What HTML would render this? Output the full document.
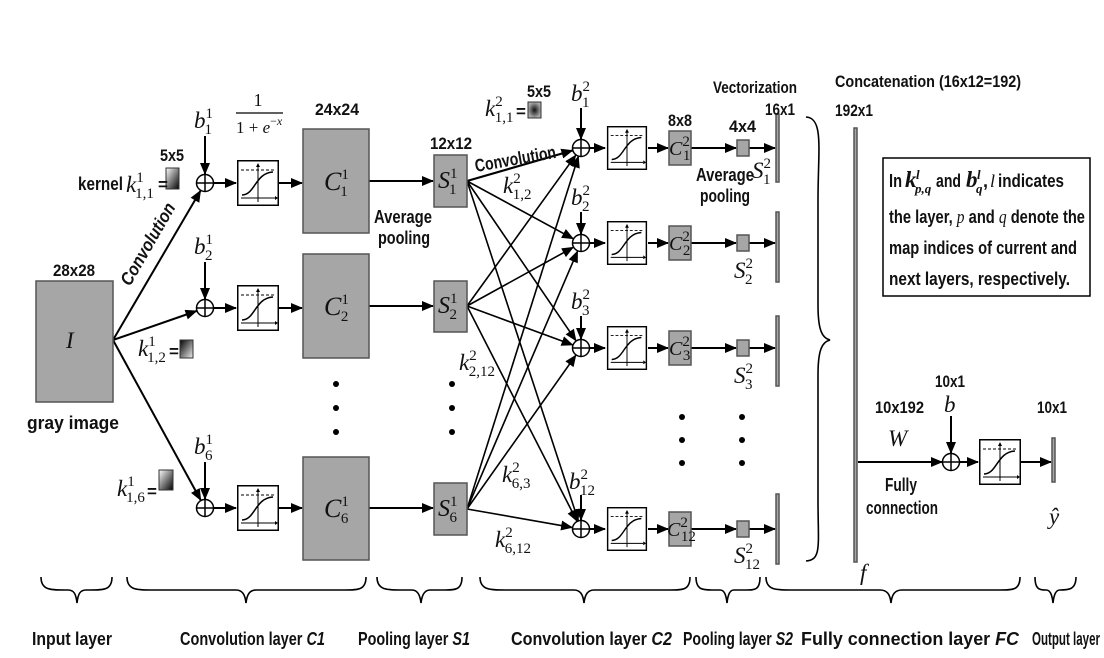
<!DOCTYPE html>
<html><head><meta charset="utf-8"><style>
html,body{margin:0;padding:0;background:#fff}
svg{display:block}
.t{font-family:"Liberation Sans Narrow","Liberation Sans",sans-serif;font-weight:bold;font-size:17px;fill:#111}
.m{font-family:"Liberation Serif",serif;font-style:italic;font-size:23px;fill:#111}
.s{font-size:15px;font-style:normal}
</style></head><body>
<svg width="1104" height="658" viewBox="0 0 1104 658" xmlns="http://www.w3.org/2000/svg">
<defs>
<marker id="a" markerUnits="userSpaceOnUse" markerWidth="12" markerHeight="10" refX="11" refY="5" orient="auto"><path d="M0,0 L12,5 L0,10 z" fill="#000"/></marker>
<linearGradient id="g1" x1="0" y1="0" x2="1" y2="1"><stop offset="0" stop-color="#fff"/><stop offset="1" stop-color="#000"/></linearGradient>
<linearGradient id="g2" x1="0" y1="0" x2="1" y2="1"><stop offset="0" stop-color="#000"/><stop offset="1" stop-color="#eee"/></linearGradient>
<radialGradient id="g3"><stop offset="0" stop-color="#111"/><stop offset="1" stop-color="#aaa"/></radialGradient>
<symbol id="sg" viewBox="0 0 42 46" overflow="visible">
<rect x="0.75" y="0.75" width="40.5" height="44.5" fill="#fff" stroke="#000" stroke-width="1.5"/>
<line x1="4" y1="10" x2="38" y2="10" stroke="#000" stroke-dasharray="3,2" stroke-width="1"/>
<line x1="4" y1="38" x2="38" y2="38" stroke="#000" stroke-width="1"/><path d="M38,36 L41,38 L38,40z"/>
<line x1="21" y1="42" x2="21" y2="5" stroke="#000" stroke-width="1"/><path d="M19,7 L21,3 L23,7z"/>
<path d="M5,35 C18,35 18,13 36,12" fill="none" stroke="#000" stroke-width="1.5"/>
</symbol>
<symbol id="pl" viewBox="-10 -10 20 20" overflow="visible">
<circle r="8.5" fill="#fff" stroke="#000" stroke-width="1.5"/><line x1="-8.5" y1="0" x2="8.5" y2="0" stroke="#000" stroke-width="1.5"/><line x1="0" y1="-8.5" x2="0" y2="8.5" stroke="#000" stroke-width="1.5"/>
</symbol>
</defs>
<g stroke="#000" stroke-width="2" fill="none">
<line x1="113" y1="340" x2="200.5" y2="190.8" marker-end="url(#a)"/>
<line x1="113" y1="340" x2="196.5" y2="311" marker-end="url(#a)"/>
<line x1="113" y1="340" x2="200.7" y2="500.1" marker-end="url(#a)"/>
<line x1="205" y1="136" x2="205" y2="174" marker-end="url(#a)"/>
<line x1="205" y1="262" x2="205" y2="299" marker-end="url(#a)"/>
<line x1="205" y1="462" x2="205" y2="499" marker-end="url(#a)"/>
<line x1="214" y1="183" x2="236" y2="183" marker-end="url(#a)"/>
<line x1="279" y1="183" x2="302" y2="183" marker-end="url(#a)"/>
<line x1="214" y1="308" x2="236" y2="308" marker-end="url(#a)"/>
<line x1="279" y1="308" x2="302" y2="308" marker-end="url(#a)"/>
<line x1="214" y1="508" x2="236" y2="508" marker-end="url(#a)"/>
<line x1="279" y1="508" x2="302" y2="508" marker-end="url(#a)"/>
<line x1="369" y1="181" x2="433" y2="181" marker-end="url(#a)"/>
<line x1="369" y1="306" x2="433" y2="306" marker-end="url(#a)"/>
<line x1="369" y1="508" x2="433" y2="508" marker-end="url(#a)"/>
<g stroke-width="1.6">
<line x1="467" y1="181" x2="572.4" y2="150.5" marker-end="url(#a)" stroke-width="2.2"/>
<line x1="467" y1="181" x2="573.1" y2="238.7" marker-end="url(#a)"/>
<line x1="467" y1="181" x2="575.9" y2="340.6" marker-end="url(#a)"/>
<line x1="467" y1="181" x2="578.2" y2="520.4" marker-end="url(#a)"/>
<line x1="467" y1="306" x2="575.7" y2="155.3" marker-end="url(#a)"/>
<line x1="467" y1="306" x2="573.1" y2="247.4" marker-end="url(#a)"/>
<line x1="467" y1="306" x2="572.6" y2="344.9" marker-end="url(#a)"/>
<line x1="467" y1="306" x2="576.9" y2="521" marker-end="url(#a)"/>
<line x1="467" y1="509" x2="578.3" y2="156.6" marker-end="url(#a)"/>
<line x1="467" y1="509" x2="577.5" y2="251.3" marker-end="url(#a)"/>
<line x1="467" y1="509" x2="575.8" y2="355.3" marker-end="url(#a)"/>
<line x1="467" y1="509" x2="572.1" y2="527.4" marker-end="url(#a)"/>
</g>
<line x1="581" y1="108" x2="581" y2="139" marker-end="url(#a)"/>
<line x1="581" y1="212" x2="581" y2="234" marker-end="url(#a)"/>
<line x1="581" y1="316" x2="581" y2="339" marker-end="url(#a)"/>
<line x1="581" y1="495" x2="581" y2="520" marker-end="url(#a)"/>
<line x1="590" y1="148" x2="605" y2="148" marker-end="url(#a)"/><line x1="648" y1="148" x2="668" y2="148" marker-end="url(#a)"/><line x1="691" y1="148" x2="736" y2="148" marker-end="url(#a)"/><line x1="749" y1="148" x2="775" y2="148" marker-end="url(#a)"/>
<line x1="590" y1="243" x2="605" y2="243" marker-end="url(#a)"/><line x1="648" y1="243" x2="668" y2="243" marker-end="url(#a)"/><line x1="691" y1="243" x2="736" y2="243" marker-end="url(#a)"/><line x1="749" y1="243" x2="775" y2="243" marker-end="url(#a)"/>
<line x1="590" y1="348" x2="605" y2="348" marker-end="url(#a)"/><line x1="648" y1="348" x2="668" y2="348" marker-end="url(#a)"/><line x1="691" y1="348" x2="736" y2="348" marker-end="url(#a)"/><line x1="749" y1="348" x2="775" y2="348" marker-end="url(#a)"/>
<line x1="590" y1="529" x2="605" y2="529" marker-end="url(#a)"/><line x1="648" y1="529" x2="668" y2="529" marker-end="url(#a)"/><line x1="691" y1="529" x2="736" y2="529" marker-end="url(#a)"/><line x1="749" y1="529" x2="775" y2="529" marker-end="url(#a)"/>
<line x1="858" y1="462" x2="942" y2="462" marker-end="url(#a)"/>
<line x1="951" y1="416" x2="951" y2="453" marker-end="url(#a)"/>
<line x1="960" y1="462" x2="978" y2="462" marker-end="url(#a)"/>
<line x1="1020" y1="462" x2="1051" y2="462" marker-end="url(#a)"/>
<path d="M806,117 C824,118 818,150 818,200 L818,305 C818,330 822,338 830,340 C822,342 818,350 818,375 L818,500 C818,545 822,560 806,561" stroke-width="1.6"/>
<g stroke-width="1.6">
<path d="M41,577 C41,590 50,590 65,590 L68,590 C74,590 76,594 77,603 C78,594 80,590 86,590 L90,590 C104,590 112,590 112,577"/>
<path d="M127,577 C127,590 137,590 150,590 L236,590 C242,590 245,594 246,603 C247,594 250,590 256,590 L345,590 C358,590 366,590 366,577"/>
<path d="M377,577 C377,590 387,590 400,590 L412,590 C417,590 420,594 421,603 C422,594 425,590 430,590 L445,590 C455,590 462,590 462,577"/>
<path d="M480,577 C480,590 490,590 505,590 L574,590 C580,590 583,594 584,603 C585,594 588,590 594,590 L670,590 C683,590 690,590 690,577"/>
<path d="M696,577 C696,590 703,590 712,590 L720,590 C724,590 726,594 727,603 C728,594 730,590 734,590 L746,590 C755,590 760,590 760,577"/>
<path d="M766,577 C766,590 776,590 790,590 L880,590 C887,590 890,594 891,603 C892,594 895,590 902,590 L1000,590 C1013,590 1020,590 1020,577"/>
<path d="M1035,577 C1035,590 1040,590 1046,590 C1050,590 1052,594 1053,603 C1054,594 1056,590 1060,590 C1068,590 1076,590 1076,577"/>
</g>
</g>
<g fill="#a6a6a6" stroke="#555" stroke-width="1.5">
<rect x="36" y="281" width="77" height="121"/>
<rect x="303" y="129" width="66" height="104"/>
<rect x="303" y="254" width="66" height="104"/>
<rect x="303" y="457" width="66" height="103"/>
<rect x="434" y="155" width="33" height="52"/>
<rect x="434" y="281" width="33" height="51"/>
<rect x="434" y="483" width="33" height="52"/>
<rect x="669" y="131" width="22" height="34"/>
<rect x="669" y="226" width="22" height="34"/>
<rect x="669" y="331" width="22" height="34"/>
<rect x="669" y="512" width="22" height="34"/>
<rect x="737" y="140" width="12" height="16"/>
<rect x="737" y="235" width="12" height="16"/>
<rect x="737" y="340" width="12" height="16"/>
<rect x="737" y="521" width="12" height="16"/>
<rect x="776" y="114" width="3" height="68"/>
<rect x="776" y="212" width="3" height="70"/>
<rect x="776" y="316" width="3" height="70"/>
<rect x="776" y="494" width="3" height="70"/>
<rect x="854" y="128" width="3" height="434"/>
<rect x="1052" y="438" width="3" height="44"/>
</g>
<rect x="166" y="168" width="13" height="21" fill="url(#g1)" stroke="#333"/>
<rect x="180" y="340" width="13" height="18" fill="url(#g2)" stroke="#333"/>
<rect x="159" y="470" width="14" height="20" fill="url(#g1)" stroke="#333"/>
<rect x="528" y="102" width="13" height="16" fill="url(#g3)" stroke="#333"/>
<use href="#pl" x="195" y="173" width="20" height="20"/>
<use href="#pl" x="195" y="298" width="20" height="20"/>
<use href="#pl" x="195" y="498" width="20" height="20"/>
<use href="#pl" x="571" y="138" width="20" height="20"/>
<use href="#pl" x="571" y="233" width="20" height="20"/>
<use href="#pl" x="571" y="338" width="20" height="20"/>
<use href="#pl" x="571" y="519" width="20" height="20"/>
<use href="#pl" x="941" y="452" width="20" height="20"/>
<use href="#sg" x="237" y="160" width="42" height="46"/>
<use href="#sg" x="237" y="285" width="42" height="46"/>
<use href="#sg" x="237" y="485" width="42" height="46"/>
<use href="#sg" x="606" y="126" width="42" height="44"/>
<use href="#sg" x="606" y="221" width="42" height="44"/>
<use href="#sg" x="606" y="326" width="42" height="44"/>
<use href="#sg" x="606" y="507" width="42" height="44"/>
<use href="#sg" x="979" y="439" width="42" height="46"/>
<g fill="#000">
<circle cx="336" cy="384" r="3"/><circle cx="336" cy="408" r="3"/><circle cx="336" cy="432" r="3"/>
<circle cx="452" cy="384" r="3"/><circle cx="452" cy="408" r="3"/><circle cx="452" cy="432" r="3"/>
<circle cx="682" cy="417" r="3"/><circle cx="682" cy="440" r="3"/><circle cx="682" cy="463" r="3"/>
<circle cx="742" cy="417" r="3"/><circle cx="742" cy="440" r="3"/><circle cx="742" cy="463" r="3"/>
</g>
<rect x="883" y="158" width="207" height="138" fill="#fff" stroke="#000" stroke-width="1.5"/>
<g class="t">
<text x="53" y="276" textLength="42" lengthAdjust="spacingAndGlyphs">28x28</text>
<text x="27" y="429" textLength="92" lengthAdjust="spacingAndGlyphs" font-size="18">gray image</text>
<text x="160" y="161" textLength="24" lengthAdjust="spacingAndGlyphs">5x5</text>
<text x="78" y="190" textLength="45" lengthAdjust="spacingAndGlyphs" font-size="18">kernel</text>
<text x="315" y="115" textLength="44" lengthAdjust="spacingAndGlyphs">24x24</text>
<text x="374" y="223" textLength="58" lengthAdjust="spacingAndGlyphs" font-size="18">Average</text>
<text x="378" y="244" textLength="52" lengthAdjust="spacingAndGlyphs" font-size="18">pooling</text>
<text x="430" y="149" textLength="42" lengthAdjust="spacingAndGlyphs">12x12</text>
<text x="527" y="97" textLength="24" lengthAdjust="spacingAndGlyphs">5x5</text>
<text x="476" y="172" transform="rotate(-10 476 172)" textLength="82" lengthAdjust="spacingAndGlyphs" font-size="18">Convolution</text>
<text x="668" y="126" textLength="24" lengthAdjust="spacingAndGlyphs">8x8</text>
<text x="729" y="132" textLength="27" lengthAdjust="spacingAndGlyphs">4x4</text>
<text x="696" y="181" textLength="58" lengthAdjust="spacingAndGlyphs" font-size="18">Average</text>
<text x="700" y="202" textLength="50" lengthAdjust="spacingAndGlyphs" font-size="18">pooling</text>
<text x="713" y="93" textLength="84" lengthAdjust="spacingAndGlyphs">Vectorization</text>
<text x="765" y="115" textLength="30" lengthAdjust="spacingAndGlyphs">16x1</text>
<text x="835" y="87" textLength="186" lengthAdjust="spacingAndGlyphs">Concatenation (16x12=192)</text>
<text x="835" y="116" textLength="38" lengthAdjust="spacingAndGlyphs">192x1</text>
<text x="875" y="413" textLength="49" lengthAdjust="spacingAndGlyphs">10x192</text>
<text x="935" y="387" textLength="30" lengthAdjust="spacingAndGlyphs">10x1</text>
<text x="1037" y="413" textLength="30" lengthAdjust="spacingAndGlyphs">10x1</text>
<text x="885" y="491" textLength="32" lengthAdjust="spacingAndGlyphs" font-size="18">Fully</text>
<text x="866" y="514" textLength="72" lengthAdjust="spacingAndGlyphs" font-size="18">connection</text>
<g font-size="18">
<text x="32" y="645" textLength="80" lengthAdjust="spacingAndGlyphs">Input layer</text>
<text x="180" y="645" textLength="145" lengthAdjust="spacingAndGlyphs">Convolution layer <tspan font-style="italic">C1</tspan></text>
<text x="358" y="645" textLength="112" lengthAdjust="spacingAndGlyphs">Pooling layer <tspan font-style="italic">S1</tspan></text>
<text x="511" y="645" textLength="161" lengthAdjust="spacingAndGlyphs">Convolution layer <tspan font-style="italic">C2</tspan></text>
<text x="683" y="645" textLength="110" lengthAdjust="spacingAndGlyphs">Pooling layer <tspan font-style="italic">S2</tspan></text>
<text x="801" y="645" textLength="218" lengthAdjust="spacingAndGlyphs">Fully connection layer <tspan font-style="italic">FC</tspan></text>
<text x="1032" y="645" textLength="68" lengthAdjust="spacingAndGlyphs">Output layer</text>
</g>
<g font-size="18">
<text x="889" y="187" textLength="13" lengthAdjust="spacingAndGlyphs">In</text>
<text x="905" y="187" class="m" font-size="20">k</text>
<text x="916" y="179" font-family="Liberation Serif" font-style="italic" font-size="13">l</text>
<text x="915" y="193" font-family="Liberation Serif" font-style="italic" font-size="13">p,q</text>
<text x="936" y="187" textLength="25" lengthAdjust="spacingAndGlyphs">and</text>
<text x="966" y="187" class="m" font-size="20">b</text>
<text x="977" y="179" font-family="Liberation Serif" font-style="italic" font-size="13">l</text>
<text x="976" y="193" font-family="Liberation Serif" font-style="italic" font-size="13">q</text>
<text x="983" y="187">,</text>
<text x="990" y="187" font-family="Liberation Serif" font-style="italic" font-weight="normal" font-size="18">l</text>
<text x="998" y="187" textLength="66" lengthAdjust="spacingAndGlyphs">indicates</text>
<text x="889" y="223" textLength="196" lengthAdjust="spacingAndGlyphs">the layer, <tspan font-family="Liberation Serif" font-style="italic" font-weight="normal" font-size="19">p</tspan> and <tspan font-family="Liberation Serif" font-style="italic" font-weight="normal" font-size="19">q</tspan> denote the</text>
<text x="889" y="254" textLength="188" lengthAdjust="spacingAndGlyphs">map indices of current and</text>
<text x="889" y="285" textLength="181" lengthAdjust="spacingAndGlyphs">next layers, respectively.</text>
</g>
<text x="153" y="247" transform="rotate(-60 153 247)" text-anchor="middle" font-style="italic" font-size="18" textLength="92" lengthAdjust="spacingAndGlyphs">Convolution</text>
<text x="158" y="190">=</text>
<text x="169" y="357">=</text>
<text x="147" y="497">=</text>
<text x="516" y="117">=</text>
</g>
<g class="m">
<text x="66" y="348">I</text>
<text x="126" y="192">k<tspan class="s" dy="-10">1</tspan><tspan class="s" dx="-8" dy="16">1,1</tspan></text>
<text x="138" y="356">k<tspan class="s" dy="-10">1</tspan><tspan class="s" dx="-8" dy="16">1,2</tspan></text>
<text x="117" y="496">k<tspan class="s" dy="-10">1</tspan><tspan class="s" dx="-8" dy="16">1,6</tspan></text>
<text x="194" y="128">b<tspan class="s" dy="-10">1</tspan><tspan class="s" dx="-8" dy="16">1</tspan></text>
<text x="194" y="254">b<tspan class="s" dy="-10">1</tspan><tspan class="s" dx="-8" dy="16">2</tspan></text>
<text x="194" y="454">b<tspan class="s" dy="-10">1</tspan><tspan class="s" dx="-8" dy="16">6</tspan></text>
<text x="258" y="106" text-anchor="middle" font-style="normal" font-size="18">1</text>
<line x1="236" y1="113" x2="283" y2="113" stroke="#000" stroke-width="1.2"/>
<text x="236" y="133" font-style="normal" font-size="17">1 + <tspan font-style="italic">e</tspan><tspan font-size="12" dy="-8">−<tspan font-style="italic">x</tspan></tspan></text>
<text x="324" y="190" font-size="26">C<tspan class="s" dy="-11">1</tspan><tspan class="s" dx="-8" dy="17">1</tspan></text>
<text x="324" y="315" font-size="26">C<tspan class="s" dy="-11">1</tspan><tspan class="s" dx="-8" dy="17">2</tspan></text>
<text x="324" y="517" font-size="26">C<tspan class="s" dy="-11">1</tspan><tspan class="s" dx="-8" dy="17">6</tspan></text>
<text x="438" y="188" font-size="24">S<tspan class="s" dy="-10">1</tspan><tspan class="s" dx="-8" dy="16">1</tspan></text>
<text x="438" y="313" font-size="24">S<tspan class="s" dy="-10">1</tspan><tspan class="s" dx="-8" dy="16">2</tspan></text>
<text x="438" y="516" font-size="24">S<tspan class="s" dy="-10">1</tspan><tspan class="s" dx="-8" dy="16">6</tspan></text>
<text x="485" y="116">k<tspan class="s" dy="-10">2</tspan><tspan class="s" dx="-8" dy="16">1,1</tspan></text>
<text x="503" y="193">k<tspan class="s" dy="-10">2</tspan><tspan class="s" dx="-8" dy="16">1,2</tspan></text>
<text x="459" y="370">k<tspan class="s" dy="-10">2</tspan><tspan class="s" dx="-8" dy="16">2,12</tspan></text>
<text x="502" y="482">k<tspan class="s" dy="-10">2</tspan><tspan class="s" dx="-8" dy="16">6,3</tspan></text>
<text x="495" y="547">k<tspan class="s" dy="-10">2</tspan><tspan class="s" dx="-8" dy="16">6,12</tspan></text>
<text x="571" y="101">b<tspan class="s" dy="-10">2</tspan><tspan class="s" dx="-8" dy="16">1</tspan></text>
<text x="571" y="205">b<tspan class="s" dy="-10">2</tspan><tspan class="s" dx="-8" dy="16">2</tspan></text>
<text x="571" y="309">b<tspan class="s" dy="-10">2</tspan><tspan class="s" dx="-8" dy="16">3</tspan></text>
<text x="569" y="489">b<tspan class="s" dy="-10">2</tspan><tspan class="s" dx="-8" dy="16">12</tspan></text>
<text x="669" y="155" font-size="20">C<tspan class="s" dy="-9" font-size="13">2</tspan><tspan class="s" font-size="13" dx="-7" dy="14">1</tspan></text>
<text x="669" y="250" font-size="20">C<tspan class="s" dy="-9" font-size="13">2</tspan><tspan class="s" font-size="13" dx="-7" dy="14">2</tspan></text>
<text x="669" y="355" font-size="20">C<tspan class="s" dy="-9" font-size="13">2</tspan><tspan class="s" font-size="13" dx="-7" dy="14">3</tspan></text>
<text x="667" y="536" font-size="20">C<tspan class="s" dy="-9" font-size="13">2</tspan><tspan class="s" font-size="13" dx="-7" dy="14">12</tspan></text>
<text x="752" y="178">S<tspan class="s" dy="-10">2</tspan><tspan class="s" dx="-8" dy="16">1</tspan></text>
<text x="734" y="278">S<tspan class="s" dy="-10">2</tspan><tspan class="s" dx="-8" dy="16">2</tspan></text>
<text x="734" y="383">S<tspan class="s" dy="-10">2</tspan><tspan class="s" dx="-8" dy="16">3</tspan></text>
<text x="734" y="563">S<tspan class="s" dy="-10">2</tspan><tspan class="s" dx="-8" dy="16">12</tspan></text>
<text x="944" y="412">b</text>
<text x="888" y="446">W</text>
<text x="860" y="580">f</text>
<text x="1049" y="524">ŷ</text>
</g>
</svg>
</body></html>
